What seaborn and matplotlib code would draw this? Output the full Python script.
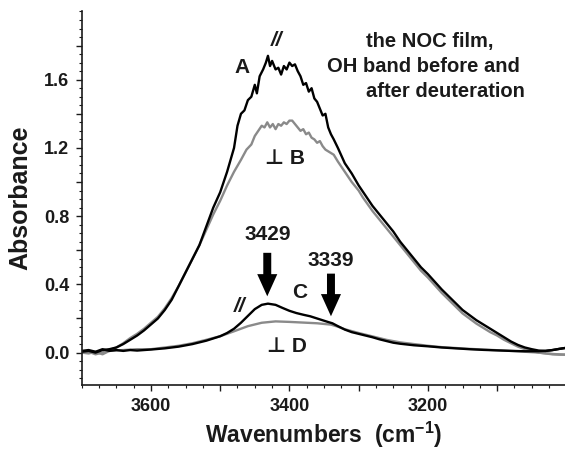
import numpy as np
import pandas as pd
import matplotlib
matplotlib.use("Agg")
import matplotlib.pyplot as plt
import seaborn as sns
from matplotlib.ticker import MultipleLocator, FixedLocator, FixedFormatter

# curve A (black, parallel polarisation, before deuteration)
wn_A = [3700, 3690, 3680, 3670, 3660, 3650, 3640, 3630, 3620, 3610, 3600, 3590, 3580, 3570,
        3560, 3550, 3540, 3530, 3520, 3510, 3500, 3490, 3480, 3475, 3470, 3465, 3460, 3455,
        3450, 3447, 3443, 3438, 3434, 3431, 3428, 3425, 3420, 3416, 3412, 3408, 3404, 3400,
        3396, 3392, 3388, 3384, 3380, 3376, 3372, 3368, 3364, 3360, 3356, 3352, 3348, 3344,
        3340, 3336, 3330, 3320, 3310, 3300, 3290, 3280, 3270, 3260, 3250, 3240, 3230, 3220,
        3210, 3200, 3190, 3180, 3170, 3160, 3150, 3140, 3130, 3120, 3110, 3100, 3090, 3080,
        3070, 3060, 3050, 3040, 3030, 3020, 3010, 3002]
abs_A = [0.005, 0.01, 0.0, 0.015, 0.02, 0.03, 0.05, 0.075, 0.10, 0.13, 0.165, 0.20, 0.25, 0.31,
         0.39, 0.47, 0.55, 0.63, 0.74, 0.85, 0.94, 1.06, 1.20, 1.33, 1.40, 1.42, 1.48, 1.50,
         1.57, 1.52, 1.62, 1.66, 1.70, 1.74, 1.68, 1.71, 1.66, 1.67, 1.63, 1.68, 1.66, 1.70,
         1.68, 1.69, 1.65, 1.62, 1.57, 1.58, 1.53, 1.55, 1.49, 1.47, 1.43, 1.39, 1.40, 1.32,
         1.28, 1.25, 1.20, 1.11, 1.05, 0.98, 0.92, 0.86, 0.81, 0.76, 0.71, 0.65, 0.60, 0.55,
         0.50, 0.46, 0.415, 0.37, 0.33, 0.29, 0.25, 0.22, 0.19, 0.165, 0.14, 0.115, 0.09, 0.065,
         0.045, 0.03, 0.02, 0.012, 0.01, 0.015, 0.022, 0.027]

# curve B (gray, perpendicular, before deuteration)
wn_B = [3700, 3690, 3680, 3670, 3660, 3650, 3640, 3630, 3620, 3610, 3600, 3590, 3580, 3570,
        3560, 3550, 3540, 3530, 3520, 3510, 3500, 3490, 3480, 3470, 3462, 3455, 3450, 3445,
        3440, 3436, 3432, 3428, 3424, 3420, 3416, 3412, 3408, 3404, 3400, 3396, 3392, 3388,
        3384, 3380, 3376, 3372, 3368, 3364, 3360, 3356, 3352, 3348, 3344, 3340, 3336, 3330,
        3320, 3310, 3300, 3294, 3280, 3270, 3260, 3250, 3240, 3230, 3220, 3210, 3200, 3190,
        3180, 3170, 3160, 3150, 3140, 3130, 3120, 3110, 3100, 3090, 3080, 3070, 3060, 3050,
        3040, 3030, 3020, 3010, 3002]
abs_B = [0.0, 0.005, -0.01, 0.0, 0.015, 0.03, 0.055, 0.085, 0.11, 0.14, 0.175, 0.21, 0.26, 0.32,
         0.39, 0.47, 0.55, 0.63, 0.72, 0.81, 0.89, 0.98, 1.06, 1.13, 1.19, 1.22, 1.27, 1.30,
         1.33, 1.32, 1.35, 1.32, 1.34, 1.31, 1.34, 1.33, 1.35, 1.34, 1.36, 1.36, 1.34, 1.32,
         1.30, 1.31, 1.28, 1.29, 1.26, 1.25, 1.23, 1.24, 1.21, 1.19, 1.18, 1.17, 1.16, 1.12,
         1.06, 1.00, 0.95, 0.91, 0.83, 0.78, 0.73, 0.68, 0.63, 0.58, 0.53, 0.48, 0.44, 0.395,
         0.35, 0.31, 0.27, 0.23, 0.20, 0.17, 0.145, 0.12, 0.10, 0.075, 0.055, 0.035, 0.02, 0.01,
         0.0, -0.005, -0.01, -0.012, -0.012]

# curve C (black, parallel, after deuteration)
wn_C = [3700, 3690, 3680, 3670, 3660, 3650, 3640, 3630, 3620, 3600, 3580, 3560, 3540, 3520,
        3500, 3490, 3480, 3470, 3460, 3450, 3440, 3431, 3420, 3410, 3400, 3390, 3380, 3370,
        3360, 3350, 3343, 3338, 3330, 3320, 3310, 3300, 3290, 3280, 3270, 3260, 3250, 3240,
        3220, 3200, 3180, 3160, 3140, 3120, 3100, 3080, 3060, 3040, 3030, 3020, 3010, 3002]
abs_C = [0.01, 0.015, 0.005, 0.02, 0.01, 0.015, 0.01, 0.015, 0.012, 0.018, 0.025, 0.035, 0.05, 0.07,
         0.096, 0.115, 0.14, 0.175, 0.215, 0.255, 0.28, 0.287, 0.28, 0.262, 0.245, 0.232, 0.222, 0.213,
         0.20, 0.187, 0.178, 0.172, 0.155, 0.135, 0.12, 0.11, 0.10, 0.09, 0.078, 0.068, 0.058, 0.052,
         0.043, 0.037, 0.03, 0.025, 0.02, 0.016, 0.013, 0.01, 0.008, 0.008, 0.01, 0.015, 0.022, 0.027]

# curve D (gray, perpendicular, after deuteration)
wn_D = [3700, 3690, 3680, 3670, 3660, 3640, 3620, 3600, 3580, 3560, 3540, 3520, 3500, 3480,
        3460, 3440, 3420, 3400, 3380, 3360, 3340, 3330, 3320, 3300, 3280, 3260, 3240, 3220,
        3200, 3180, 3160, 3140, 3120, 3100, 3080, 3060, 3040, 3020, 3002]
abs_D = [0.0, -0.005, 0.005, -0.01, 0.01, 0.015, 0.02, 0.02, 0.03, 0.04, 0.055, 0.075, 0.096, 0.125,
         0.155, 0.175, 0.183, 0.18, 0.176, 0.172, 0.164, 0.152, 0.137, 0.115, 0.095, 0.075, 0.06, 0.05,
         0.04, 0.032, 0.027, 0.022, 0.018, 0.014, 0.01, 0.005, 0.0, -0.008, -0.012]

peak_labels = ["3429", "3339"]
peak_pos = [3432, 3340]

sns.set_style("ticks")
plt.rcParams['font.family'] = ['Liberation Sans', 'DejaVu Sans']
plt.rcParams['mathtext.fontset'] = 'custom'
plt.rcParams['mathtext.bf'] = 'Liberation Sans:bold'
plt.rcParams['mathtext.rm'] = 'Liberation Sans:bold'
txt = "#1a1a1a"
gray = "#8a8a8a"

fig = plt.figure(figsize=(5.65, 4.49), dpi=100)
ax = fig.add_axes([0.1446, 0.1425, 0.8554, 0.832])

for wn, ab, col in [(wn_B, abs_B, gray), (wn_D, abs_D, gray), (wn_A, abs_A, "black"), (wn_C, abs_C, "black")]:
    sns.lineplot(x=wn, y=ab, color=col, lw=1.7, ax=ax, estimator=None, sort=False)

ax.set_xlim(3700, 3002)
ax.set_ylim(-0.19, 2.0)
ax.set_xticks([3600, 3500, 3400, 3300, 3200, 3100])
ax.set_xticklabels(["3600", "", "3400", "", "3200", ""])
ax.xaxis.set_minor_locator(MultipleLocator(25))
yt = [0.0, 0.2, 0.4, 0.6, 0.8, 1.0, 1.2, 1.4, 1.6, 1.8]
ax.yaxis.set_major_locator(FixedLocator(yt))
ax.yaxis.set_major_formatter(FixedFormatter(["0.0", "", "0.4", "", "0.8", "", "1.2", "", "1.6", ""]))
ax.yaxis.set_minor_locator(MultipleLocator(0.05))
ax.tick_params(which="major", length=4, width=1, labelsize=13, colors=txt, pad=5)
ax.tick_params(which="minor", length=2, width=0.8, colors=txt)
for lab in ax.get_xticklabels() + ax.get_yticklabels():
    lab.set_fontweight("bold")

sns.despine(ax=ax)
for s in ["left", "bottom"]:
    ax.spines[s].set_linewidth(1.2)
    ax.spines[s].set_color(txt)

ax.set_xlabel("Wavenumbers  (cm$^{\\mathbf{-1}}$)", fontsize=16.5, fontweight="bold", color=txt, labelpad=4)
ax.set_ylabel("Absorbance", fontsize=18, fontweight="bold", color=txt, labelpad=8)

bold = dict(fontweight="bold", color=txt, ha="center", va="center")
ax.text(3469, 1.67, "A", fontsize=15, **bold)
ax.text(3419, 1.83, "//", fontsize=15, fontstyle="italic", **bold)
ax.text(3406, 1.14, "⊥ B", fontsize=15, **bold)
ax.text(3385, 0.35, "C", fontsize=15, **bold)
ax.text(3472, 0.27, "//", fontsize=15, fontstyle="italic", **bold)
ax.text(3404, 0.035, "⊥ D", fontsize=15, **bold)

ax.text(3198, 1.824, "the NOC film,", fontsize=14.5, **bold)
ax.text(3206, 1.677, "OH band before and", fontsize=14.5, **bold)
ax.text(3174, 1.531, "after deuteration", fontsize=14.5, **bold)

arrow_top = [0.585, 0.463]
arrow_tip = [0.33, 0.213]
label_y = [0.69, 0.54]
for lab, xp, y0, y1, ly in zip(peak_labels, peak_pos, arrow_top, arrow_tip, label_y):
    ax.text(xp, ly, lab, fontsize=15, **bold)
    ax.arrow(xp, y0, 0, y1 - y0, width=11.5, head_width=29, head_length=0.13,
             length_includes_head=True, color="black", lw=0)

fig.savefig("out.png", dpi=100)
